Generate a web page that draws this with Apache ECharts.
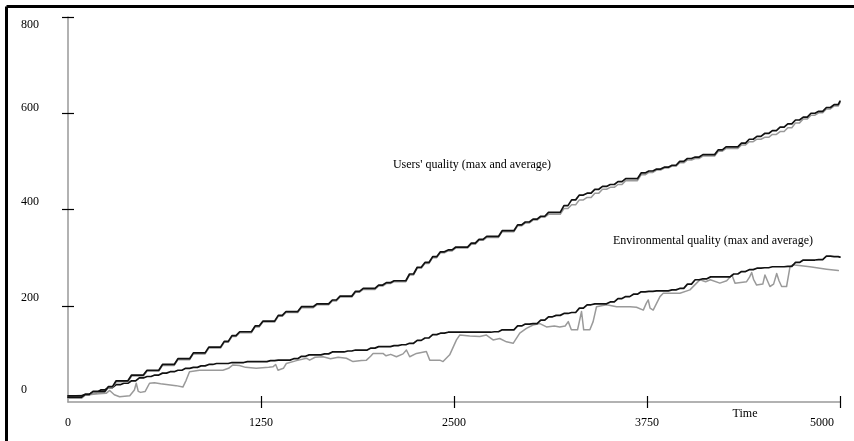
<!DOCTYPE html>
<html>
<head>
<meta charset="utf-8">
<title>Users' and environmental quality over time</title>
<script src="https://cdn.jsdelivr.net/npm/echarts@6/dist/echarts.min.js"></script>
<style>
  html, body { margin: 0; padding: 0; background: #fff; }
  #chart { width: 854px; height: 441px; }
</style>
</head>
<body>
<div id="chart"></div>
<script>
// Sampling instants for the stepped series (every 50 time units)
const timeSteps = [
  0, 50, 100, 150, 200, 250, 300, 350, 400, 450,
  500, 550, 600, 650, 700, 750, 800, 850, 900, 950,
  1000, 1050, 1100, 1150, 1200, 1250, 1300, 1350, 1400, 1450,
  1500, 1550, 1600, 1650, 1700, 1750, 1800, 1850, 1900, 1950,
  2000, 2050, 2100, 2150, 2200, 2250, 2300, 2350, 2400, 2450,
  2500, 2550, 2600, 2650, 2700, 2750, 2800, 2850, 2900, 2950,
  3000, 3050, 3100, 3150, 3200, 3250, 3300, 3350, 3400, 3450,
  3500, 3550, 3600, 3650, 3700, 3750, 3800, 3850, 3900, 3950,
  4000, 4050, 4100, 4150, 4200, 4250, 4300, 4350, 4400, 4450,
  4500, 4550, 4600, 4650, 4700, 4750, 4800, 4850, 4900, 4950,
  5000
];

// Users' quality: maximum and average
const usersMax = [
  10, 10, 16, 22, 22, 32, 44, 44, 56, 56,
  66, 66, 78, 78, 90, 90, 102, 102, 114, 114,
  126, 138, 146, 146, 158, 168, 168, 180, 188, 188,
  198, 198, 204, 204, 212, 220, 220, 230, 236, 236,
  243, 248, 252, 252, 266, 280, 290, 302, 312, 316,
  322, 322, 330, 338, 344, 344, 356, 356, 368, 374,
  380, 386, 394, 394, 408, 420, 430, 434, 442, 448,
  452, 458, 464, 464, 476, 480, 484, 488, 492, 500,
  506, 509, 514, 514, 524, 530, 530, 538, 546, 552,
  558, 564, 571, 578, 586, 592, 600, 604, 612, 618,
  625
];
const usersAvg = [
  8, 8, 14, 20, 20, 30, 42, 42, 54, 54,
  64, 64, 76, 76, 88, 88, 100, 100, 112, 112,
  124, 136, 144, 144, 156, 166, 166, 178, 186, 186,
  196, 196, 202, 202, 210, 218, 218, 228, 234, 234,
  241, 246, 250, 250, 264, 278, 288, 300, 310, 314,
  320, 320, 328, 336, 342, 342, 354, 354, 366, 372,
  378, 384, 390, 390, 402, 410, 420, 425, 434, 442,
  446, 452, 460, 460, 472, 477, 482, 486, 490, 497,
  503, 506, 511, 511, 521, 527, 527, 534, 541, 546,
  550, 556, 562, 570, 580, 588, 596, 601, 609, 615,
  622
];

// Environmental quality: maximum (stepped)
const envMax = [
  13, 13, 16, 20, 25, 30, 36, 39, 44, 50,
  53, 56, 60, 63, 66, 70, 72, 75, 78, 80,
  80, 82, 82, 84, 84, 84, 86, 87, 87, 90,
  95, 98, 98, 100, 104, 104, 106, 108, 108, 112,
  115, 115, 117, 119, 122, 128, 133, 140, 143, 145,
  145, 145, 145, 145, 145, 146, 150, 150, 158, 162,
  163, 170, 177, 180, 184, 186, 195, 202, 204, 204,
  208, 215, 219, 224, 229, 230, 231, 231, 233, 236,
  245, 254, 256, 260, 260, 260, 266, 271, 275, 278,
  279, 281, 281, 282, 290, 295, 295, 296, 303, 302,
  301
];

// Environmental quality: average (irregular samples, noisy)
const envAvgTime = [
  0, 100, 200, 247, 270, 300, 334, 400, 430, 442,
  455, 470, 500, 528, 560, 600, 700, 744, 765, 787,
  852, 1003, 1040, 1068, 1110, 1150, 1219, 1300, 1327, 1345,
  1360, 1370, 1395, 1414, 1480, 1544, 1565, 1600, 1652, 1700,
  1750, 1803, 1846, 1900, 1933, 1960, 1976, 2040, 2060, 2090,
  2127, 2170, 2192, 2213, 2257, 2321, 2343, 2408, 2429, 2472,
  2516, 2537, 2602, 2667, 2710, 2753, 2796, 2840, 2883, 2926,
  2969, 3012, 3056, 3099, 3150, 3185, 3220, 3240, 3260, 3300,
  3326, 3340, 3380, 3401, 3423, 3488, 3553, 3640, 3682, 3726,
  3745, 3758, 3770, 3790, 3834, 3855, 3963, 4028, 4071, 4093,
  4130, 4160, 4222, 4266, 4300, 4309, 4320, 4395, 4415, 4428,
  4440, 4460, 4500, 4514, 4530, 4546, 4570, 4590, 4605, 4622,
  4654, 4676, 4693, 4805, 4913, 4989
];
const envAvgValue = [
  12, 14, 17, 18, 24, 15, 11, 13, 25, 39,
  22, 20, 22, 39, 40, 38, 34, 31, 45, 63,
  66, 66, 70, 77, 76, 72, 70, 72, 73, 78,
  66, 63, 70, 80, 86, 91, 87, 93, 94, 90,
  93, 91, 84, 86, 87, 95, 101, 101, 96, 99,
  94, 100, 108, 94, 101, 105, 87, 87, 84, 98,
  129, 139, 137, 136, 139, 129, 132, 125, 122, 143,
  153, 160, 163, 156, 158, 156, 158, 167, 150, 150,
  188, 150, 150, 167, 198, 202, 198, 198, 197, 191,
  205, 212, 195, 191, 219, 226, 226, 233, 247, 254,
  250, 254, 247, 252, 264, 267, 247, 250, 260, 269,
  255, 243, 245, 264, 252, 240, 245, 267, 252, 240,
  240, 281, 285, 281, 276, 273
];

// Axis ticks
const xTicks = [0, 1250, 2500, 3750, 5000];
const yTicks = [0, 200, 400, 600, 800];

const serif = "'Liberation Serif', 'Times New Roman', serif";
const T_MAX = 5000;

const pairs = (xs, ys) => xs.map((x, i) => [x, ys[i]]);

// Turn held values into a staircase whose risers are slightly slanted
// (each change ramps over +/- `half` time units around its instant).
function staircase(ts, vs, half) {
  const pts = [[ts[0], vs[0]]];
  for (let i = 1; i < ts.length; i++) {
    if (vs[i] !== vs[i - 1]) {
      pts.push([Math.max(ts[i] - half, ts[i - 1]), vs[i - 1]]);
      pts.push([Math.min(ts[i] + half, T_MAX), vs[i]]);
    }
  }
  const last = ts.length - 1;
  pts.push([ts[last], vs[last]]);
  return pts;
}

// Small vertical nudges for the y tick labels
const yLabelPad = {
  0: [0, 0, 24, 0],
  200: [0, 0, 16, 0],
  400: [0, 0, 15, 0],
  600: [0, 0, 11, 0],
  800: [16, 0, 0, 0]
};
const yRich = {};
yTicks.forEach(v => {
  yRich['y' + v] = { padding: yLabelPad[v], fontFamily: serif, fontSize: 12, color: '#000' };
});

const chart = echarts.init(document.getElementById('chart'));

const lineBase = { type: 'line', showSymbol: false, symbol: 'none', animation: false };
const darkLine = { color: '#111', width: 1.7, join: 'round', cap: 'round' };
const greyLine = { color: '#9a9a9a', width: 1.5, join: 'round', cap: 'round' };

chart.setOption({
  backgroundColor: '#fff',
  animation: false,
  grid: { left: 68, right: 14, top: 17, bottom: 39, outerBoundsMode: 'none' },
  xAxis: [
    {
      type: 'value', min: 0, max: T_MAX, interval: 1250,
      axisLine: { show: true, lineStyle: { color: '#999', width: 1.5 } },
      axisTick: { show: true, length: 6, customValues: xTicks.slice(1), lineStyle: { color: '#000', width: 1.2 } },
      axisLabel: {
        customValues: xTicks, margin: 15, fontFamily: serif, fontSize: 12, color: '#000',
        formatter: v => (v === T_MAX ? '{r|' + v + '}' : String(v)),
        rich: { r: { padding: [0, 36, 0, 0], fontFamily: serif, fontSize: 12, color: '#000' } }
      },
      splitLine: { show: false }
    },
    {
      type: 'value', min: 0, max: T_MAX, interval: 1250, position: 'bottom',
      axisLine: { show: false },
      axisTick: { show: true, inside: true, length: 6, customValues: xTicks.slice(1), lineStyle: { color: '#000', width: 1.2 } },
      axisLabel: { show: false },
      splitLine: { show: false }
    }
  ],
  yAxis: [
    {
      type: 'value', min: 0, max: 800, interval: 200,
      axisLine: { show: true, lineStyle: { color: '#999', width: 1.5 } },
      axisTick: { show: true, length: 6, customValues: yTicks.slice(1), lineStyle: { color: '#000', width: 1.2 } },
      axisLabel: {
        customValues: yTicks, align: 'left', margin: 47,
        fontFamily: serif, fontSize: 12, color: '#000',
        formatter: v => '{y' + v + '|' + v + '}',
        rich: yRich
      },
      splitLine: { show: false }
    },
    {
      type: 'value', min: 0, max: 800, interval: 200, position: 'left',
      axisLine: { show: false },
      axisTick: { show: true, inside: true, length: 6, customValues: yTicks.slice(1), lineStyle: { color: '#000', width: 1.2 } },
      axisLabel: { show: false },
      splitLine: { show: false }
    }
  ],
  series: [
    Object.assign({}, lineBase, {
      name: 'Environmental quality (average)',
      data: pairs(envAvgTime, envAvgValue),
      lineStyle: greyLine
    }),
    Object.assign({}, lineBase, {
      name: 'Environmental quality (max)',
      data: staircase(timeSteps, envMax, 12),
      lineStyle: darkLine
    }),
    Object.assign({}, lineBase, {
      name: "Users' quality (average)",
      data: staircase(timeSteps, usersAvg, 12),
      lineStyle: greyLine
    }),
    Object.assign({}, lineBase, {
      name: "Users' quality (max)",
      data: staircase(timeSteps, usersMax, 12),
      lineStyle: darkLine
    })
  ],
  graphic: [
    { type: 'line', shape: { x1: 6.5, y1: 6.5, x2: 854, y2: 6.5 }, style: { stroke: '#000', lineWidth: 3 }, silent: true },
    { type: 'line', shape: { x1: 6.5, y1: 6.5, x2: 6.5, y2: 441 }, style: { stroke: '#000', lineWidth: 3 }, silent: true },
    {
      type: 'text', x: 472, y: 165,
      style: { text: "Users' quality (max and average)", font: '12px ' + serif, fill: '#000', align: 'center', verticalAlign: 'middle' }
    },
    {
      type: 'text', x: 713, y: 241,
      style: { text: 'Environmental quality (max and average)', font: '12px ' + serif, fill: '#000', align: 'center', verticalAlign: 'middle' }
    },
    {
      type: 'text', x: 745, y: 414,
      style: { text: 'Time', font: '12px ' + serif, fill: '#000', align: 'center', verticalAlign: 'middle' }
    }
  ]
});
</script>
</body>
</html>
